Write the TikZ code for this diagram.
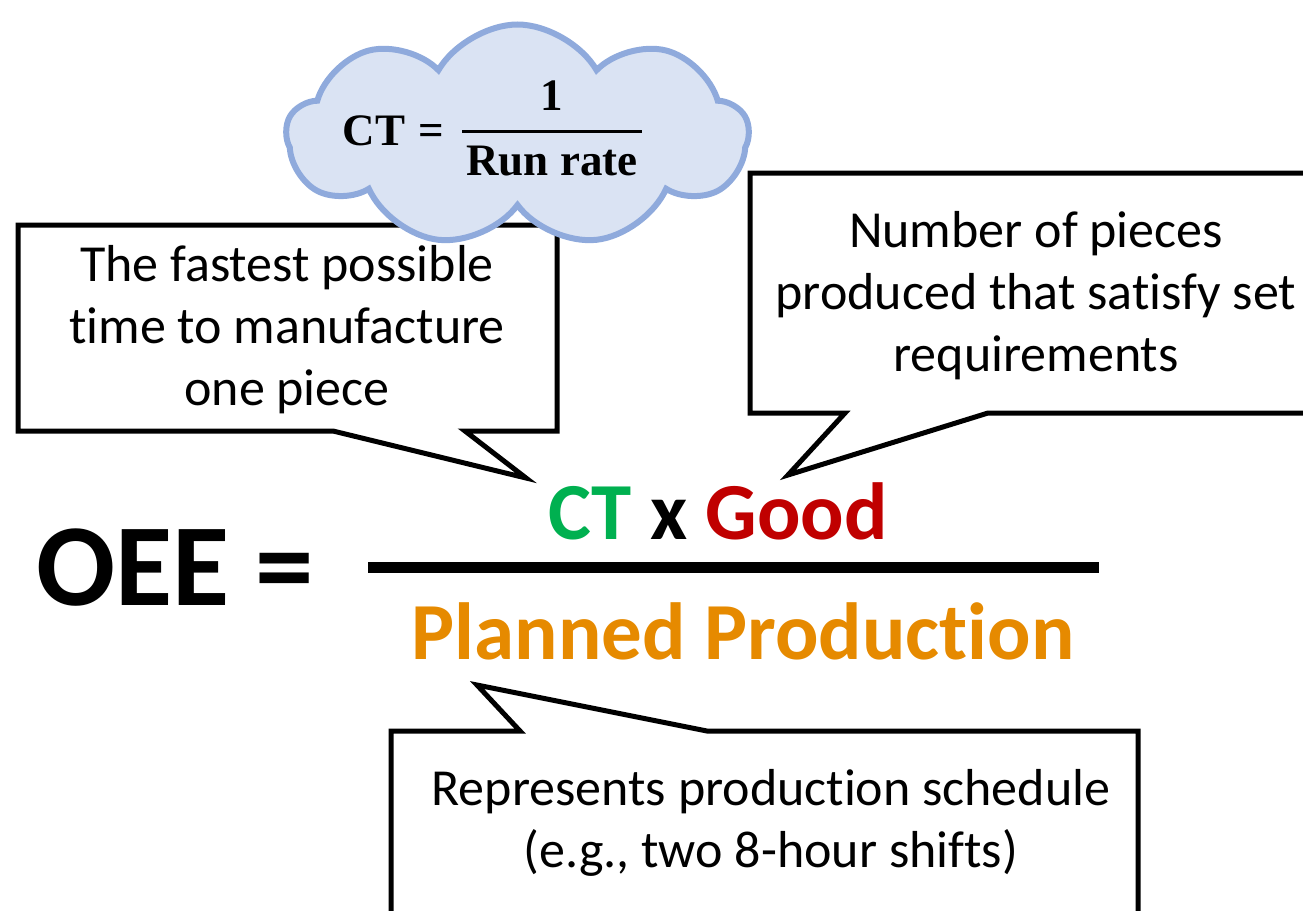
\documentclass[tikz,border=0pt]{standalone}
\usepackage{fontspec}
\setmainfont{Carlito}[Ligatures=NoCommon]
\newfontfamily\formulafont{Liberation Serif}
\usetikzlibrary{shapes.symbols}
\definecolor{ctgreen}{HTML}{00B050}
\definecolor{goodred}{HTML}{C00000}
\definecolor{planorange}{HTML}{E68A00}
\definecolor{cloudfill}{HTML}{DAE3F3}
\definecolor{cloudline}{HTML}{8FAADC}
\begin{document}
\begin{tikzpicture}[x=1pt,y=-1pt,
  callout/.style={draw=black, fill=white, line width=5pt, line join=miter},
  calltext/.style={align=center, font=\fontsize{52}{62}\selectfont, inner sep=0pt},
  bigtext/.style={font=\fontsize{81}{90}\selectfont\bfseries, inner sep=0pt, anchor=base},
  cloudtext/.style={font=\formulafont\fontsize{45}{48}\selectfont\bfseries, inner sep=0pt, anchor=base},
  thought/.style={cloud, cloud puffs=9, cloud puff arc=120, aspect=2.1, draw=cloudline, fill=cloudfill, line width=6pt, minimum width=462pt, minimum height=222pt, inner sep=0pt}]
\useasboundingbox (0,0) rectangle (1303,910);
\clip (0,0) rectangle (1303,910);

% left callout
\draw[callout] (18,225) -- (557,225) -- (557,431) -- (465,431) -- (526,478) -- (333,431) -- (18,431) -- cycle;
\node[calltext] (lefttext) at (287,330) {The fastest possible\\time to manufacture\\one piece};

% right callout
\draw[callout] (750,173) -- (1330,173) -- (1330,413) -- (988,413) -- (788,475) -- (845,413) -- (750,413) -- cycle;
\node[calltext] (righttext) at (1036,296) {Number of pieces\\produced that satisfy set\\requirements};

% bottom callout
\draw[callout] (391,731) -- (520,731) -- (477,685) -- (707,731) -- (1138,731) -- (1138,930) -- (391,930) -- cycle;
\node[calltext] (bottomtext) at (771,823) {Represents production schedule\\(e.g., two 8-hour shifts)};

% cloud
\node[thought] (cloud) at (517.5,135.5) {};
\node[cloudtext] (ct) at (374,145) {CT};
\node[cloudtext] (eq) at (431,145) {=};
\node[cloudtext] (one) at (552,110) {1};
\node[cloudtext] (runrate) at (552,175) {Run rate};
\draw[line width=2.5pt] (462,131.5) -- (642,131.5);

% main formula
\node[font=\fontsize{117}{130}\selectfont\bfseries, inner sep=0pt, anchor=base] (oee) at (175,605) {OEE =};
\node[bigtext] (num) at (718,539) {{\color{ctgreen}CT} x {\color{goodred}Good}};
\draw[line width=11pt] (368,567.5) -- (1099,567.5);
\node[bigtext, text=planorange] (den) at (743,659) {Planned Production};
\end{tikzpicture}
\end{document}
